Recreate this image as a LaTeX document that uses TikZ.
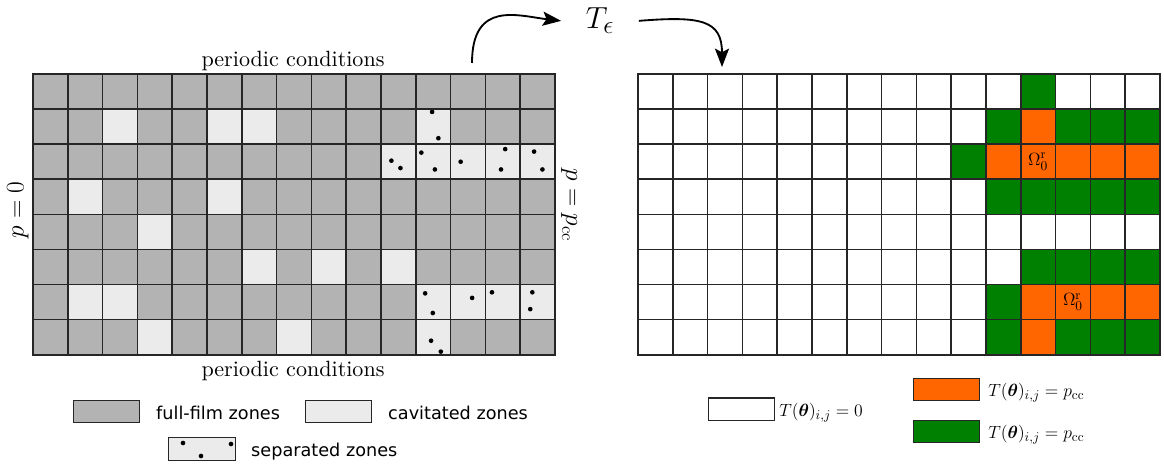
\documentclass[tikz,border=0pt]{standalone}
\usepackage{fontspec}
\usepackage{amsmath}
\usetikzlibrary{arrows.meta}
\newfontfamily\legendfont{DejaVu Sans}
\newfontfamily\capfont[Extension=.otf]{lmroman10-regular}
\definecolor{fullfilm}{RGB}{179,179,179}
\definecolor{cavit}{RGB}{235,235,235}
\definecolor{hotcell}{RGB}{255,102,0}
\definecolor{ringcell}{RGB}{0,128,0}

\begin{document}
\begin{tikzpicture}[x=0.0286533cm, y=-0.0286533cm,
  gridline/.style={line width=1.3pt, black!85},
  gridborder/.style={line width=1.9pt, black!85},
  sepdot/.style={fill=black},
  legbox/.style={draw=black!85, line width=0.9pt, minimum width=1.905cm,
    minimum height=0.64cm, inner sep=0pt},
  captxt/.style={font=\capfont\fontsize{18}{22}\selectfont, inner sep=0pt},
  bctxt/.style={font=\fontsize{20}{24}\selectfont, inner sep=0pt},
  omtxt/.style={font=\fontsize{15}{18}\selectfont, inner sep=0pt},
  legtxt/.style={font=\legendfont\fontsize{14.4}{17}\selectfont, inner sep=0pt, anchor=base west},
  mathleg/.style={font=\fontsize{15.5}{18}\selectfont, inner sep=0pt, anchor=base west},
  teps/.style={font=\fontsize{31}{36}\selectfont, inner ysep=0pt, inner xsep=20pt, anchor=base},
  flow/.style={line width=1.5pt, -{Stealth[length=15pt,width=11.5pt,inset=3pt]}},
]
\useasboundingbox (0,0) rectangle (1164,464);

% ---------- pressure field grid ----------
\begin{scope}[xshift=0.94556cm, yshift=-2.12034cm, x=0.99713cm, y=-1.00573cm]
  \fill[fullfilm] (0,0) rectangle (15,8);
  \foreach \c/\r in {3/2,6/2,7/2,2/4,6/4,4/5,7/6,9/6,11/6,2/7,3/7,4/8,8/8,
                     12/2,11/3,12/3,13/3,14/3,15/3,12/7,13/7,14/7,15/7,12/8}
    \fill[cavit] (\c-1,\r-1) rectangle (\c,\r);
  % separated cells carry dots
  \foreach \px/\py in {11.47/1.08, 11.65/1.83,
                       10.30/2.47, 10.56/2.68, 11.16/2.24, 11.55/2.72,
                       12.29/2.50, 13.57/2.14, 13.45/2.72, 14.40/2.21, 14.64/2.72,
                       11.27/6.25, 11.49/6.81, 12.62/6.38, 13.19/6.22,
                       14.35/6.22, 14.29/6.70, 11.44/7.60, 11.72/7.91}
    \fill[sepdot] (\px,\py) circle[radius=1.9pt];
  \foreach \i in {1,...,14} \draw[gridline] (\i,0) -- (\i,8);
  \foreach \j in {1,...,7} \draw[gridline] (0,\j) -- (15,\j);
  \draw[gridborder] (0,0) rectangle (15,8);
\end{scope}

% ---------- thresholded field grid ----------
\begin{scope}[xshift=18.2808cm, yshift=-2.12034cm, x=0.99713cm, y=-1.00573cm]
  \fill[white] (0,0) rectangle (15,8);
  \foreach \c/\r in {12/2,11/3,12/3,13/3,14/3,15/3,12/7,13/7,14/7,15/7,12/8}
    \fill[hotcell] (\c-1,\r-1) rectangle (\c,\r);
  \foreach \c/\r in {12/1,11/2,13/2,14/2,15/2,10/3,11/4,12/4,13/4,14/4,15/4,
                     12/6,13/6,14/6,15/6,11/7,11/8,13/8,14/8,15/8}
    \fill[ringcell] (\c-1,\r-1) rectangle (\c,\r);
  \node[omtxt] (omA) at (11.5,2.5) {$\Omega_0^{\mathrm{r}}$};
  \node[omtxt] (omB) at (12.5,6.5) {$\Omega_0^{\mathrm{r}}$};
  \foreach \i in {1,...,14} \draw[gridline] (\i,0) -- (\i,8);
  \foreach \j in {1,...,7} \draw[gridline] (0,\j) -- (15,\j);
  \draw[gridborder] (0,0) rectangle (15,8);
\end{scope}

% ---------- boundary labels ----------
\node[captxt, anchor=base] (perTop) at (293,67) {periodic conditions};
\node[captxt, anchor=base] (perBot) at (293,377) {periodic conditions};
\node[bctxt, rotate=90] (pLeft) at (17.8,210) {$p=0$};
\node[bctxt, rotate=-90] (pRight) at (569,205.5) {$p=p_{\mathrm{cc}}$};

% ---------- operator and arrows ----------
\node[teps] (Teps) at (600,29) {$T_\epsilon$};
\coordinate (liftL) at (472,63);
\coordinate (dropR) at (722,67);
\draw[flow] (liftL) .. controls +(0,-63) and +(-43,-5) .. (Teps.west);
\draw[flow] (Teps.east) .. controls +(62,-5) and +(0,-47) .. (dropR);

% ---------- legend, left ----------
\node[legbox, fill=fullfilm] (kFull) at (106.7,411.7) {};
\node[legtxt] (kFullT) at (156,419.5) {full-film zones};
\node[legbox, fill=cavit] (kCav) at (338.7,411.7) {};
\node[legtxt] (kCavT) at (388,419.5) {cavitated zones};
\node[legbox, fill=cavit] (kSep) at (202,449) {};
\fill[sepdot] ([shift={(-19,-6)}]kSep.center) circle[radius=1.9pt];
\fill[sepdot] ([shift={(-1,7)}]kSep.center) circle[radius=1.9pt];
\fill[sepdot] ([shift={(29,-5)}]kSep.center) circle[radius=1.9pt];
\node[legtxt] (kSepT) at (251,456) {separated zones};

% ---------- legend, right ----------
\node[legbox, fill=white] (kZero) at (741.7,409.2) {};
\node[mathleg] (kZeroT) at (779,416.5) {$T(\boldsymbol{\theta})_{i,j} = 0$};
\node[legbox, fill=hotcell] (kHot) at (946.3,389.7) {};
\node[mathleg] (kHotT) at (988,396.5) {$T(\boldsymbol{\theta})_{i,j} = p_{\mathrm{cc}}$};
\node[legbox, fill=ringcell] (kRing) at (946.3,431.3) {};
\node[mathleg] (kRingT) at (988,438.5) {$T(\boldsymbol{\theta})_{i,j} = p_{\mathrm{cc}}$};
\end{tikzpicture}
\end{document}
